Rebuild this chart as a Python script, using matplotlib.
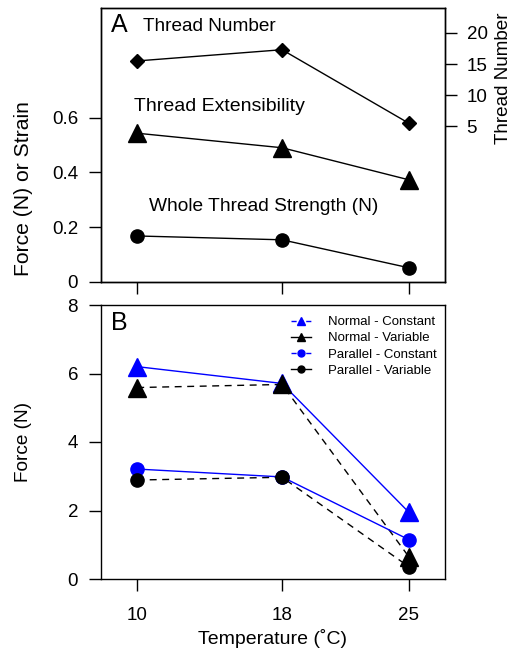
import matplotlib
matplotlib.use("Agg")
import matplotlib.pyplot as plt
from matplotlib.lines import Line2D

plt.rcParams["font.family"] = ["Liberation Sans", "DejaVu Sans"]

# Temperature treatments
temps = [10, 18, 25]

# Panel A
thread_number = [15.5, 17.3, 5.5]
thread_extensibility = [0.543, 0.49, 0.373]
thread_strength = [0.168, 0.154, 0.052]

# Panel B
normal_constant = [6.2, 5.71, 1.95]
normal_variable = [5.59, 5.68, 0.65]
parallel_constant = [3.21, 2.98, 1.15]
parallel_variable = [2.89, 2.97, 0.36]

a_yticks = [0, 0.2, 0.4, 0.6]
a_yticklabels = ["0", "0.2", "0.4", "0.6"]
n_yticks = [5, 10, 15, 20]
b_yticks = [0, 2, 4, 6, 8]


def style_axis(ax):
    ax.tick_params(axis="both", direction="out", length=8.5, width=1, labelsize=13.5,
                   pad=8)
    ax.tick_params(axis="x", pad=11.5)
    for s in ax.spines.values():
        s.set_linewidth(1)


def main() -> None:
    fig = plt.figure(figsize=(5.12, 6.51), dpi=100)

    # ---------- Panel A ----------
    axA = fig.add_axes([101 / 512, 1 - 282 / 651, 344 / 512, 274 / 651])
    axA.plot(temps, thread_extensibility, color="black", lw=1, marker="^", ms=12.5)
    axA.plot(temps, thread_strength, color="black", lw=1, marker="o", ms=9.5)
    axA.set_xlim(8, 27)
    axA.set_ylim(0, 1.0)
    axA.set_yticks(a_yticks)
    axA.set_yticklabels(a_yticklabels)
    axA.set_xticks(temps)
    axA.set_xticklabels([])
    style_axis(axA)
    axA.set_ylabel("Force (N) or Strain", fontsize=15.2)
    axA.yaxis.set_label_coords(-0.198, 0.34)

    axN = axA.twinx()
    axN.plot(temps, thread_number, color="black", lw=1, marker="D", ms=7.5)
    axN.set_ylim(-20, 24)
    axN.set_yticks(n_yticks)
    style_axis(axN)
    axN.tick_params(axis="y", pad=7)
    axN.set_ylabel("Thread Number", fontsize=13.6)
    axN.yaxis.set_label_coords(1.145, 0.745)

    axA.text(0.028, 0.938, "A", transform=axA.transAxes, fontsize=18,
             ha="left", va="center")
    axA.text(0.122, 0.931, "Thread Number", transform=axA.transAxes, fontsize=13.7,
             ha="left", va="center")
    axA.text(0.096, 0.642, "Thread Extensibility", transform=axA.transAxes,
             fontsize=14, ha="left", va="center")
    axA.text(0.14, 0.277, "Whole Thread Strength (N)", transform=axA.transAxes,
             fontsize=13.8, ha="left", va="center")

    # ---------- Panel B ----------
    axB = fig.add_axes([101 / 512, 1 - 579 / 651, 344 / 512, 274 / 651])
    axB.plot(temps, normal_constant, color="blue", lw=1, marker="^", ms=12.5)
    axB.plot(temps, normal_variable, color="black", lw=1, ls=(0, (5, 4)),
             marker="^", ms=12.5)
    axB.plot(temps, parallel_constant, color="blue", lw=1, marker="o", ms=9.5)
    axB.plot(temps, parallel_variable, color="black", lw=1, ls=(0, (5, 4)),
             marker="o", ms=9.5)
    axB.set_xlim(8, 27)
    axB.set_ylim(0, 8)
    axB.set_yticks(b_yticks)
    axB.set_xticks(temps)
    style_axis(axB)
    axB.set_ylabel("Force (N)", fontsize=13.7)
    axB.yaxis.set_label_coords(-0.2, 0.5)
    axB.set_xlabel("Temperature (\u02daC)", fontsize=14, labelpad=4)
    axB.text(0.028, 0.935, "B", transform=axB.transAxes, fontsize=18,
             ha="left", va="center")

    handles = [
        Line2D([], [], color="blue", lw=1, ls="--", marker="^", ms=6),
        Line2D([], [], color="black", lw=1, marker="^", ms=6),
        Line2D([], [], color="blue", lw=1, ls="--", marker="o", ms=5),
        Line2D([], [], color="black", lw=1, marker="o", ms=5),
    ]
    labels = ["Normal - Constant", "Normal - Variable",
              "Parallel - Constant", "Parallel - Variable"]
    axB.legend(handles, labels, loc="upper left", bbox_to_anchor=(0.553, 0.96),
               frameon=False, fontsize=9.5, handlelength=1.5, handletextpad=1.3,
               labelspacing=0.3, borderpad=0, borderaxespad=0)

    fig.savefig("out.png", dpi=100)


if __name__ == "__main__":
    main()
